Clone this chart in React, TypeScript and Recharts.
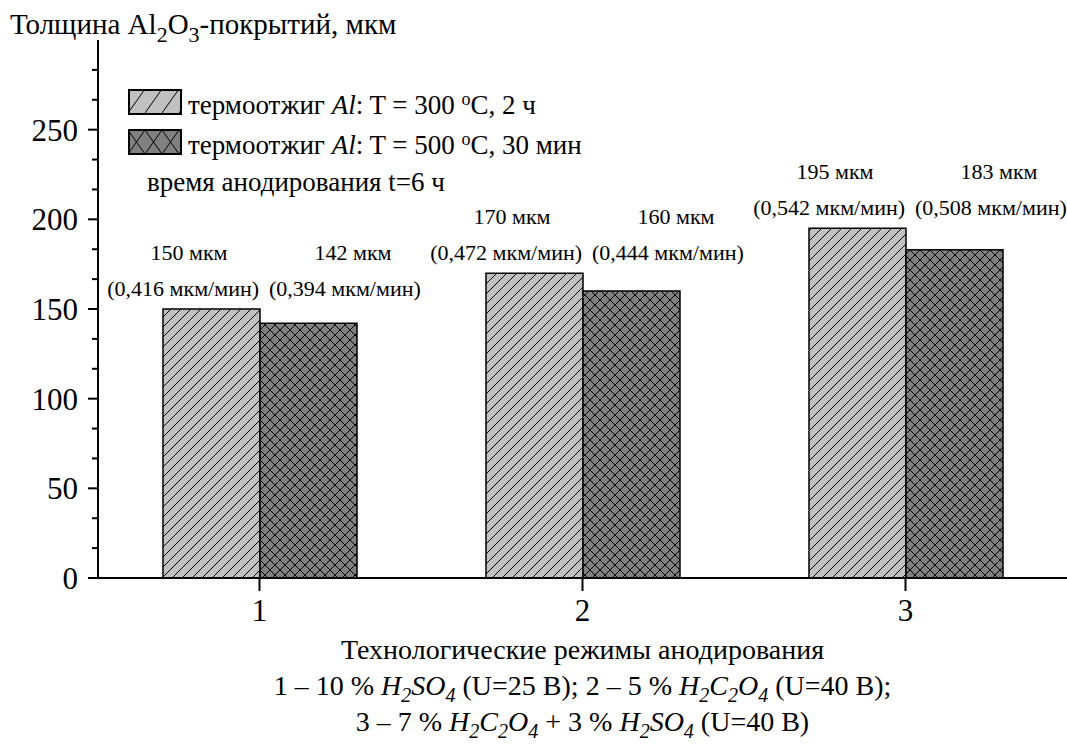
import React from 'react';
import { BarChart, Bar, XAxis, YAxis, LabelList, Legend } from 'recharts';

const categories = ['1', '2', '3'];
const thickness300 = [150, 170, 195];
const thickness500 = [142, 160, 183];
const rate300 = ['0,416', '0,472', '0,542'];
const rate500 = ['0,394', '0,444', '0,508'];
const yMajorTicks = [0, 50, 100, 150, 200, 250];
const yMinorPerMajor = 3;

const data = categories.map((c, i) => ({ cat: c, a: thickness300[i], b: thickness500[i] }));
const yTicks: number[] = [];
yMajorTicks.forEach((m) => {
  for (let k = 0; k < yMinorPerMajor; k++) yTicks.push(m + (50 / yMinorPerMajor) * k);
});

const FONT = '"Liberation Serif", "Times New Roman", serif';

const YTick = (props: any) => {
  const { x, y, payload } = props;
  const v = payload.value;
  const major = Math.abs(v / 50 - Math.round(v / 50)) < 1e-6;
  return (
    <g>
      <line x1={x - (major ? 10 : 6)} x2={x} y1={y} y2={y} stroke="#000" strokeWidth={2} />
      {major && (
        <text x={x - 20} y={y} dy="0.35em" textAnchor="end" fontSize={31} fontFamily={FONT} fill="#000">
          {Math.round(v)}
        </text>
      )}
    </g>
  );
};

const pairTop = (props: any) => {
  const { y, height, value, index } = props;
  const maxVal = Math.max(thickness300[index], thickness500[index]);
  const ppu = height / value;
  return y - (maxVal - value) * ppu;
};

const LabelA = (props: any) => {
  const { x, width, value, index } = props;
  const top = pairTop(props);
  const right = x + width;
  return (
    <g fontFamily={FONT} fontSize={22} fill="#000">
      <text x={right - 71} y={top - 57} dy="0.35em" textAnchor="middle">{`${value} мкм`}</text>
      <text x={right - 1} y={top - 21} dy="0.35em" textAnchor="end">{`(${rate300[index]} мкм/мин)`}</text>
    </g>
  );
};

const LabelB = (props: any) => {
  const { x, value, index } = props;
  const top = pairTop(props);
  return (
    <g fontFamily={FONT} fontSize={22} fill="#000">
      <text x={x + 93} y={top - 57} dy="0.35em" textAnchor="middle">{`${value} мкм`}</text>
      <text x={x + 9} y={top - 21} dy="0.35em" textAnchor="start">{`(${rate500[index]} мкм/мин)`}</text>
    </g>
  );
};

const YTitle = () => (
  <text x={10} y={34} fontSize={29} fontFamily={FONT} fill="#000">
    Толщина Al<tspan dy={8} fontSize={22}>2</tspan><tspan dy={-8}>O</tspan><tspan dy={8} fontSize={22}>3</tspan><tspan dy={-8}>-покрытий, мкм</tspan>
  </text>
);

const XTitle = (props: any) => {
  const vb = props.viewBox || {};
  const cx = vb.x + vb.width / 2;
  const y0 = vb.y;
  const fs = 28;
  const ss = 20;
  const d = 7;
  return (
    <g fontFamily={FONT} fontSize={fs} fill="#000">
      <text x={cx} y={y0 + 81} textAnchor="middle">Технологические режимы анодирования</text>
      <text x={cx} y={y0 + 117} textAnchor="middle">
        1 – 10 % <tspan fontStyle="italic">H</tspan><tspan fontStyle="italic" dy={d} fontSize={ss}>2</tspan><tspan fontStyle="italic" dy={-d}>SO</tspan><tspan fontStyle="italic" dy={d} fontSize={ss}>4</tspan><tspan dy={-d}> (U=25 В); 2 – 5 % </tspan><tspan fontStyle="italic">H</tspan><tspan fontStyle="italic" dy={d} fontSize={ss}>2</tspan><tspan fontStyle="italic" dy={-d}>C</tspan><tspan fontStyle="italic" dy={d} fontSize={ss}>2</tspan><tspan fontStyle="italic" dy={-d}>O</tspan><tspan fontStyle="italic" dy={d} fontSize={ss}>4</tspan><tspan dy={-d}> (U=40 В);</tspan>
      </text>
      <text x={cx} y={y0 + 153} textAnchor="middle">
        3 – 7 % <tspan fontStyle="italic">H</tspan><tspan fontStyle="italic" dy={d} fontSize={ss}>2</tspan><tspan fontStyle="italic" dy={-d}>C</tspan><tspan fontStyle="italic" dy={d} fontSize={ss}>2</tspan><tspan fontStyle="italic" dy={-d}>O</tspan><tspan fontStyle="italic" dy={d} fontSize={ss}>4</tspan><tspan dy={-d}> + 3 % </tspan><tspan fontStyle="italic">H</tspan><tspan fontStyle="italic" dy={d} fontSize={ss}>2</tspan><tspan fontStyle="italic" dy={-d}>SO</tspan><tspan fontStyle="italic" dy={d} fontSize={ss}>4</tspan><tspan dy={-d}> (U=40 В)</tspan>
      </text>
    </g>
  );
};

const Swatch = ({ kind }: { kind: 'hatch' | 'cross' }) => (
  <svg width={54} height={27} style={{ display: 'block' }}>
    <defs>
      <pattern id="lgHatch" patternUnits="userSpaceOnUse" width={17} height={24}>
        <rect width={17} height={24} fill="#c0c0c0" />
        <path d="M0,24 L17,0" stroke="#000" strokeWidth={1} />
      </pattern>
      <pattern id="lgCross" patternUnits="userSpaceOnUse" width={17} height={24} y={1}>
        <rect width={17} height={24} fill="#808080" />
        <path d="M0,0 L17,24 M17,0 L0,24" stroke="#000" strokeWidth={1} />
      </pattern>
    </defs>
    <rect x={1} y={1} width={52} height={24} fill={kind === 'hatch' ? 'url(#lgHatch)' : 'url(#lgCross)'} stroke="#000" strokeWidth={2} />
  </svg>
);

const LegendContent = () => (
  <div style={{ fontFamily: FONT, fontSize: 27, color: '#000', lineHeight: '40px' }}>
    <div style={{ display: 'flex', alignItems: 'center', height: 40 }}>
      <Swatch kind="hatch" />
      <span style={{ marginLeft: 6, whiteSpace: 'nowrap' }}>
        термоотжиг <i>Al</i>: T = 300 <sup style={{ fontSize: 18, verticalAlign: '9px' }}>o</sup>C, 2 ч
      </span>
    </div>
    <div style={{ display: 'flex', alignItems: 'center', height: 40 }}>
      <Swatch kind="cross" />
      <span style={{ marginLeft: 6, whiteSpace: 'nowrap' }}>
        термоотжиг <i>Al</i>: T = 500 <sup style={{ fontSize: 18, verticalAlign: '9px' }}>o</sup>C, 30 мин
      </span>
    </div>
    <div style={{ height: 40, paddingLeft: 19, whiteSpace: 'nowrap' }}>время анодирования t=6 ч</div>
  </div>
);

export default function App() {
  return (
    <div style={{ position: 'absolute', left: 0, top: 0, width: 1067, height: 747, background: '#fff', fontFamily: FONT }}>
      <BarChart
        width={1067}
        height={747}
        data={data}
        margin={{ top: 40, right: 0, bottom: 0, left: 0 }}
        barGap={0}
        barSize={97}
      >
        <defs>
          <pattern id="barHatch" patternUnits="userSpaceOnUse" width={10} height={10}>
            <rect width={10} height={10} fill="#c0c0c0" />
            <path d="M0,10 L10,0 M-2,2 L2,-2 M8,12 L12,8" stroke="#000" strokeWidth={1} />
          </pattern>
          <pattern id="barCross" patternUnits="userSpaceOnUse" width={10} height={10}>
            <rect width={10} height={10} fill="#808080" />
            <path d="M0,0 L10,10 M10,0 L0,10" stroke="#000" strokeWidth={1} />
          </pattern>
        </defs>
        <XAxis
          dataKey="cat"
          height={169}
          axisLine={{ stroke: '#000', strokeWidth: 2 }}
          tickLine={{ stroke: '#000', strokeWidth: 2 }}
          tickSize={13}
          tickMargin={8}
          tick={{ fontSize: 31, fontFamily: FONT, fill: '#000' }}
          label={{ content: XTitle }}
        />
        <YAxis
          type="number"
          domain={[0, 300]}
          width={98}
          ticks={yTicks}
          interval={0}
          axisLine={{ stroke: '#000', strokeWidth: 2 }}
          tickLine={false}
          tickSize={0}
          tickMargin={0}
          tick={YTick}
          label={{ content: YTitle }}
        />
        <Legend
          layout="vertical"
          align="center"
          verticalAlign="middle"
          content={LegendContent}
          wrapperStyle={{ left: 128, top: 82, width: 580 }}
        />
        <Bar dataKey="a" fill="url(#barHatch)" stroke="#000" strokeWidth={1.5} isAnimationActive={false}>
          <LabelList dataKey="a" content={LabelA} />
        </Bar>
        <Bar dataKey="b" fill="url(#barCross)" stroke="#000" strokeWidth={1.5} isAnimationActive={false}>
          <LabelList dataKey="b" content={LabelB} />
        </Bar>
      </BarChart>
    </div>
  );
}
